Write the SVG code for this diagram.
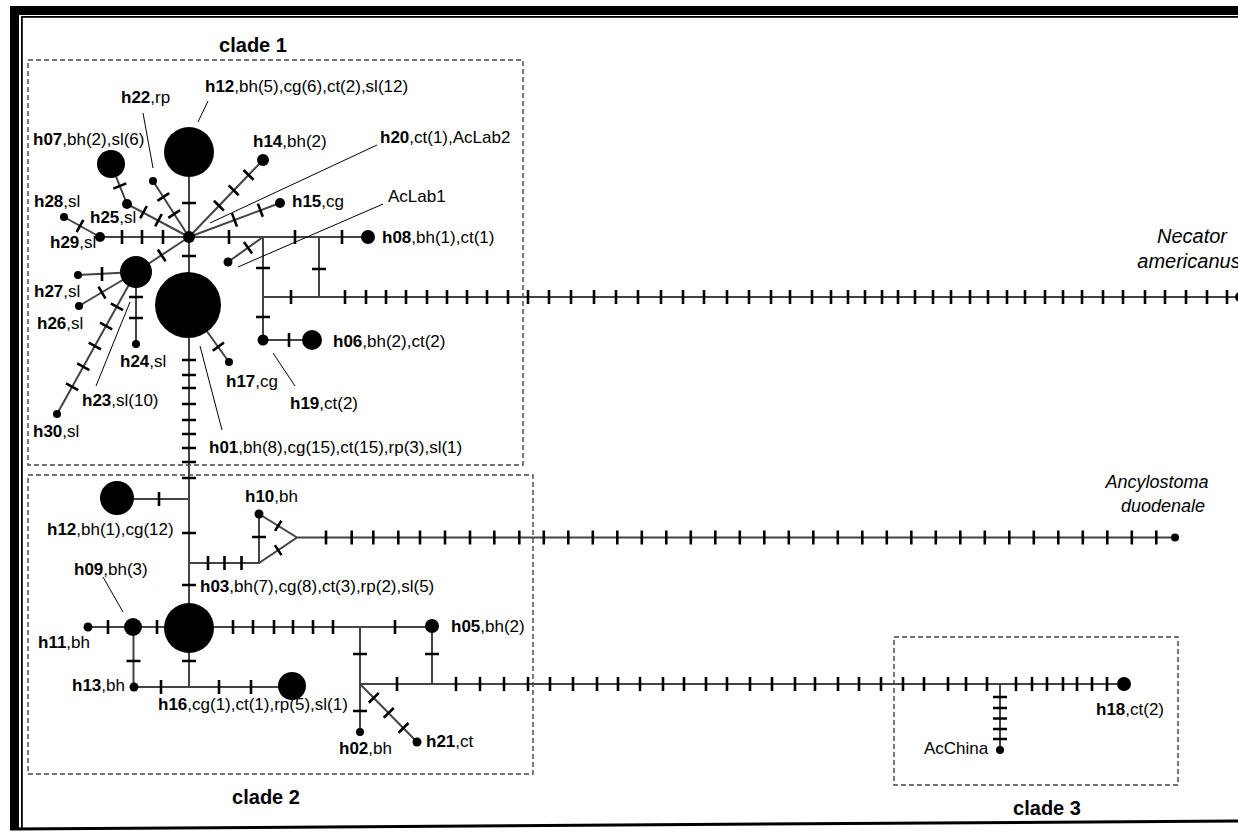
<svg xmlns="http://www.w3.org/2000/svg" width="1238" height="835" viewBox="0 0 1238 835">
<style>
.ln{stroke:#444;stroke-width:2;fill:none}
.tk{stroke:#000;stroke-width:2.6;fill:none}
.ld{stroke:#000;stroke-width:1}
.nd{fill:#000}
text{font-family:"Liberation Sans",Arial,sans-serif;font-size:17px;fill:#000}
.b{font-weight:bold}
.cl{font-size:20px;font-weight:bold;text-anchor:middle}
.sp{font-style:italic;font-size:20px;text-anchor:middle}
.sp2{font-style:italic;font-size:18px;text-anchor:middle}
.box{fill:none;stroke:#444;stroke-width:1.4;stroke-dasharray:5 3}
</style>
<rect width="1238" height="835" fill="#fff"/>
<g id="frame">
<rect x="10" y="6" width="1228" height="9" fill="#000"/>
<rect x="21" y="16" width="1217" height="1.8" fill="#000"/>
<rect x="10" y="6" width="9" height="824" fill="#000"/>
<rect x="21" y="16" width="1.8" height="812" fill="#000"/>
<line x1="10" y1="829" x2="1238" y2="821" stroke="#000" stroke-width="3"/>
</g>
<g id="clades">
<rect class="box" x="28" y="60" width="495" height="405"/>
<rect class="box" x="28" y="475" width="505" height="299"/>
<rect class="box" x="894" y="637" width="284" height="148"/>
<text class="cl" x="253" y="52">clade 1</text>
<text class="cl" x="266" y="804">clade 2</text>
<text class="cl" x="1047" y="815">clade 3</text>
</g>
<g id="connectors">
<path class="ln" d="M189 152V687 M189 237L127 204L111 164 M189 237L153 181 M100 237H368 M64 217L100 237 M189 237L263 160 M189 237L280 203 M228 262L263 237 M263 237V340H312 M319 237V297 M263 297H1240 M189 237L136 272 M136 272L78 275 M136 272L79 306 M136 272L57 414 M136 272V344 M188 305L229 362"/>
<path class="ln" d="M117 499H189 M189 563H259V514L297 537.5L259 563 M297 537.5H1175 M88 627H432 M133.5 627V687 M134 687H292 M360 627V732 M432 627V684 M360 684H1124 M360 684L417 742 M1000 684V750"/>
<path class="tk" d="M291 290v14M345 290v14M366 290v14M386 290v14M406 290v14M427 290v14M447 290v14M467 290v14M487 290v14M508 290v14M528 290v14M549 290v14M571 290v14M594 290v14M616 290v14M638 290v14M661 290v14M683 290v14M704 290v14M727 290v14M749 290v14M771 290v14M790 290v14M812 290v14M831 290v14M848 290v14M865 290v14M882 290v14M898 290v14M915 290v14M933 290v14M951 290v14M970 290v14M988 290v14M1007 290v14M1025 290v14M1045 290v14M1063 290v14M1082 290v14M1103 290v14M1123 290v14M1145 290v14M1165 290v14M1186 290v14M1207 290v14M1227 290v14"/>
<path class="tk" d="M326 530.5v14M351.7 530.5v14M373.3 530.5v14M398.3 530.5v14M420 530.5v14M445 530.5v14M470 530.5v14M494.3 530.5v14M519.3 530.5v14M543.8 530.5v14M568.3 530.5v14M592.8 530.5v14M617.3 530.5v14M641.8 530.5v14M666.3 530.5v14M690.8 530.5v14M715.3 530.5v14M739.8 530.5v14M764.3 530.5v14M788.8 530.5v14M813.3 530.5v14M837.8 530.5v14M862.3 530.5v14M886.8 530.5v14M911.3 530.5v14M935.8 530.5v14M960.3 530.5v14M984.8 530.5v14M1009.3 530.5v14M1033.8 530.5v14M1058.3 530.5v14M1082.8 530.5v14M1107.3 530.5v14M1131.8 530.5v14M1156.3 530.5v14"/>
<path class="tk" d="M397 677v14M456 677v14M480 677v14M504 677v14M528 677v14M550 677v14M573 677v14M597 677v14M618 677v14M640 677v14M663 677v14M684 677v14M706 677v14M727 677v14M750 677v14M772 677v14M795 677v14M815 677v14M838 677v14M859 677v14M881 677v14M903 677v14M924 677v14M948 677v14M966 677v14M987 677v14M1016 677v14M1032 677v14M1047 677v14M1063 677v14M1077 677v14M1092 677v14M1107 677v14"/>
<path class="tk" d="M108 620v14M157 620v14M233 620v14M253 620v14M274 620v14M293 620v14M313 620v14M333 620v14M395 620v14 M161 680v14M219 680v14M251 680v14 M229 230v14M295 230v14M342 230v14M122 230v14M142 230v14M163 230v14 M159 492v14 M208 556v14M224.5 556v14M241.5 556v14 M102 267v14 M289 333v14"/>
<path class="tk" d="M182 203h14M182 256h14M182 360h14M182 375h14M182 388h14M182 404h14M182 420h14M182 434h14M182 448h14M182 462h14M182 478h14M182 533h14M182 585h14M182 661h14 M256 268h14M256 317h14M312 269h14 M129 297h14M129 318h14 M252 537h14 M126.5 661h14 M353 654h14M353 711h14M425 654h14 M993 697h14M993 708h14M993 718.5h14M993 729h14M993 739h14"/>
<path class="tk" d="M113.3 188.6L126.3 183.4 M140.2 218.4L146.8 206 M155.2 226.4L161.8 214 M157.4 200.8L169.2 193.2 M168.3 217.8L180.1 210.2 M76.6 232L83.4 219.8 M213.9 200.8L223.9 210.6 M228.7 185.4L238.7 195.2 M243.5 170L253.5 179.8 M232 213.4L237 226.6 M257.9 203.6L262.8 216.8 M243.9 242L252.1 253.4 M157.8 249.6L165.6 261.2 M98.5 286.7L105.5 298.7 M110.8 303.3L123 310.1 M100 322.6L112.2 329.4 M88.7 342.6L100.9 349.4 M77.2 363.3L89.4 370.1 M66 383.3L78.2 390.1 M212.7 350.8L223.9 342.6 M274.9 545.1L281.5 555.1 M275 530.9L281.4 520.7 M368.8 702.7L378.8 692.9 M383.7 717.8L393.7 708 M398.5 732.8L408.5 723"/>
<path class="ld" d="M198 122L208 101 M143 113L153 168 M210 223L377 145 M383 204L238 267 M130 302L96 386 M200 346L222 430 M273 353L295 386 M103 577L123 612"/>
</g>
<g id="n-hub"><circle class="nd" cx="189" cy="237" r="6"/></g>
<g id="n-h12a"><circle class="nd" cx="189" cy="152" r="25"/><text x="205" y="92"><tspan class="b">h12</tspan>,bh(5),cg(6),ct(2),sl(12)</text></g>
<g id="n-h22"><circle class="nd" cx="153" cy="181" r="4"/><text x="121" y="103"><tspan class="b">h22</tspan>,rp</text></g>
<g id="n-h07"><circle class="nd" cx="111" cy="164" r="14"/><text x="33" y="145"><tspan class="b">h07</tspan>,bh(2),sl(6)</text></g>
<g id="n-h14"><circle class="nd" cx="263" cy="160" r="6"/><text x="253" y="147"><tspan class="b">h14</tspan>,bh(2)</text></g>
<g id="n-h20"><text x="380" y="143"><tspan class="b">h20</tspan>,ct(1),AcLab2</text></g>
<g id="n-h15"><circle class="nd" cx="280" cy="203" r="5"/><text x="292" y="207"><tspan class="b">h15</tspan>,cg</text></g>
<g id="n-aclab1"><circle class="nd" cx="228" cy="262" r="4.5"/><text x="388" y="202">AcLab1</text></g>
<g id="n-h08"><circle class="nd" cx="368" cy="237" r="7"/><text x="382" y="243"><tspan class="b">h08</tspan>,bh(1),ct(1)</text></g>
<g id="n-h28"><circle class="nd" cx="64" cy="217" r="4"/><text x="34" y="207"><tspan class="b">h28</tspan>,sl</text></g>
<g id="n-h25"><circle class="nd" cx="127" cy="204" r="5"/><text x="90" y="223"><tspan class="b">h25</tspan>,sl</text></g>
<g id="n-h29"><circle class="nd" cx="100" cy="237" r="5"/><text x="50" y="248"><tspan class="b">h29</tspan>,sl</text></g>
<g id="n-h23"><circle class="nd" cx="136" cy="272" r="16"/><text x="82" y="406"><tspan class="b">h23</tspan>,sl(10)</text></g>
<g id="n-h27"><circle class="nd" cx="78" cy="275" r="4"/><text x="34" y="297"><tspan class="b">h27</tspan>,sl</text></g>
<g id="n-h26"><circle class="nd" cx="79" cy="306" r="4"/><text x="37" y="329"><tspan class="b">h26</tspan>,sl</text></g>
<g id="n-h24"><circle class="nd" cx="136" cy="344" r="4"/><text x="120" y="367"><tspan class="b">h24</tspan>,sl</text></g>
<g id="n-h30"><circle class="nd" cx="57" cy="414" r="4"/><text x="33" y="437"><tspan class="b">h30</tspan>,sl</text></g>
<g id="n-h01"><circle class="nd" cx="188" cy="305" r="33"/><text x="209" y="453"><tspan class="b">h01</tspan>,bh(8),cg(15),ct(15),rp(3),sl(1)</text></g>
<g id="n-h17"><circle class="nd" cx="229" cy="362" r="4"/><text x="226" y="387"><tspan class="b">h17</tspan>,cg</text></g>
<g id="n-h19"><circle class="nd" cx="263" cy="340" r="5.5"/><text x="290" y="409"><tspan class="b">h19</tspan>,ct(2)</text></g>
<g id="n-h06"><circle class="nd" cx="312" cy="340" r="10"/><text x="333" y="347"><tspan class="b">h06</tspan>,bh(2),ct(2)</text></g>
<g id="n-necator"><circle class="nd" cx="1240" cy="297" r="5"/><text class="sp" x="1192" y="243">Necator</text><text class="sp" x="1189" y="268">americanus</text></g>
<g id="n-h12b"><circle class="nd" cx="117" cy="498" r="17"/><text x="47" y="535"><tspan class="b">h12</tspan>,bh(1),cg(12)</text></g>
<g id="n-h10"><circle class="nd" cx="259" cy="514" r="4.5"/><text x="245" y="502"><tspan class="b">h10</tspan>,bh</text></g>
<g id="n-ancylostoma"><circle class="nd" cx="1175" cy="537.5" r="4"/><text class="sp2" x="1157" y="488">Ancylostoma</text><text class="sp2" x="1163" y="512">duodenale</text></g>
<g id="n-h03"><circle class="nd" cx="189" cy="628" r="25"/><text x="200" y="592"><tspan class="b">h03</tspan>,bh(7),cg(8),ct(3),rp(2),sl(5)</text></g>
<g id="n-h09"><circle class="nd" cx="133" cy="627" r="9"/><text x="74" y="575"><tspan class="b">h09</tspan>,bh(3)</text></g>
<g id="n-h11"><circle class="nd" cx="88" cy="627" r="4.5"/><text x="38" y="648"><tspan class="b">h11</tspan>,bh</text></g>
<g id="n-h13"><circle class="nd" cx="134" cy="687" r="4.5"/><text x="72" y="691"><tspan class="b">h13</tspan>,bh</text></g>
<g id="n-h16"><circle class="nd" cx="292" cy="686" r="14"/><text x="158" y="710"><tspan class="b">h16</tspan>,cg(1),ct(1),rp(5),sl(1)</text></g>
<g id="n-h05"><circle class="nd" cx="432" cy="626" r="7"/><text x="451" y="632"><tspan class="b">h05</tspan>,bh(2)</text></g>
<g id="n-h02"><circle class="nd" cx="360" cy="732" r="4"/><text x="339" y="754"><tspan class="b">h02</tspan>,bh</text></g>
<g id="n-h21"><circle class="nd" cx="417" cy="742" r="4.5"/><text x="426" y="747"><tspan class="b">h21</tspan>,ct</text></g>
<g id="n-h18"><circle class="nd" cx="1124" cy="684" r="7"/><text x="1096" y="715"><tspan class="b">h18</tspan>,ct(2)</text></g>
<g id="n-acchina"><circle class="nd" cx="1000" cy="750" r="4"/><text x="924" y="754">AcChina</text></g>
</svg>
